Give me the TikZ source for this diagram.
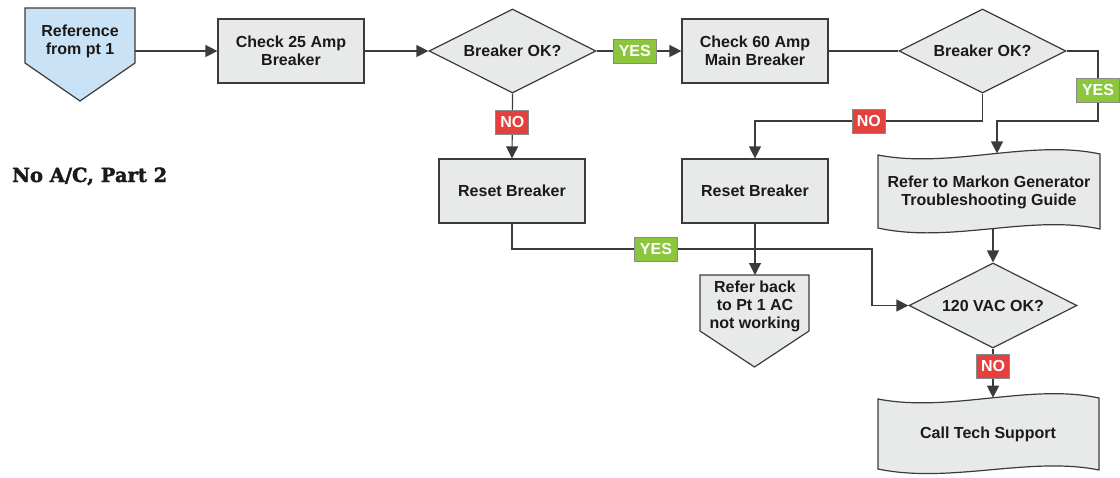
\documentclass[tikz,border=0pt]{standalone}
\usepackage{fontspec}
\setmainfont{Liberation Sans}
\newfontfamily\titlefont[BoldFeatures={FakeBold=2}]{DejaVu Serif}
\usetikzlibrary{shapes.geometric,arrows.meta,calc}
\definecolor{boxfill}{HTML}{E8E9E9}
\definecolor{edgec}{HTML}{3A3C3C}
\definecolor{reffill}{HTML}{C9E2F6}
\definecolor{yesgreen}{HTML}{8CC63F}
\definecolor{nored}{HTML}{E4403D}
\definecolor{txt}{HTML}{1A1A1A}
\begin{document}
\begin{tikzpicture}[x=1pt,y=-1pt,
  font=\fontsize{16}{18}\selectfont\bfseries,
  every node/.style={text=txt},
  shp/.style={draw=edgec, fill=boxfill, line width=1.2pt},
  box/.style={shp, minimum width=146pt, minimum height=64pt, inner sep=0pt, align=center},
  dia/.style={shp, diamond, minimum width=167pt, minimum height=84pt, inner sep=0pt},
  lbl/.style={draw=edgec!60, line width=0.6pt, text=white, minimum width=43pt, minimum height=24pt, inner sep=0pt},
  yes/.style={lbl, fill=yesgreen},
  no/.style={lbl, fill=nored, minimum width=33pt},
  conn/.style={draw=edgec, line width=1.2pt},
  arr/.style={conn, -{Triangle[length=12pt,width=12pt]}},
  txtnode/.style={align=center, inner sep=0pt}
]
\useasboundingbox (0,0) rectangle (1120,477);

% reference pentagon
\draw[shp, fill=reffill] (25,8) -- (135,8) -- (135,63) -- (80,101) -- (25,63) -- cycle;
\node[txtnode] (ref) at (80,41) {Reference\\from pt 1};
\coordinate (refE) at (135,51);

% main row
\node[box] (chk1) at (291,51) {Check 25 Amp\\Breaker};
\node[dia] (ok1) at (512.5,51) {};
\node[txtnode] (ok1t) at (ok1.center) {Breaker OK?};
\node[box] (chk2) at (755,51) {Check 60 Amp\\Main Breaker};
\node[dia] (ok2) at (982.5,51) {};
\node[txtnode] (ok2t) at (ok2.center) {Breaker OK?};

% resets
\node[box] (rst1) at (512,191) {Reset Breaker};
\node[box] (rst2) at (755,191) {Reset Breaker};

% refer back pentagon
\draw[shp] (700,275) -- (809,275) -- (809,331) -- (754.5,367) -- (700,331) -- cycle;
\node[txtnode] (back) at (755,306) {Refer back\\to Pt 1 AC\\not working};
\coordinate (backT) at (755,275);

% document 1
\draw[shp] (878,155) .. controls (950,169) and (1030,139) .. (1100,154) -- (1100,229)
  .. controls (1030,214) and (950,244) .. (878,228) -- cycle;
\node[txtnode] (doc1) at (989,192) {Refer to Markon Generator\\Troubleshooting Guide};
\coordinate (doc1T) at (997,153.4);
\coordinate (doc1B) at (993,228.5);

% 120 VAC diamond
\node[dia, minimum width=168pt, minimum height=85pt] (ok3) at (993,305.5) {};
\node[txtnode] (ok3t) at (ok3.center) {120 VAC OK?};

% document 2
\draw[shp] (878,399) .. controls (950,413) and (1030,383) .. (1099,398) -- (1099,470)
  .. controls (1030,456) and (950,484) .. (878,469) -- cycle;
\node[txtnode] (doc2) at (988,434) {Call Tech Support};
\coordinate (doc2T) at (993,397.7);

% title
\node[anchor=base west, inner sep=0pt, font=\titlefont\bfseries\fontsize{19.5}{19.5}\selectfont] (title) at (12,182) {No A/C, Part 2};

% connectors
\draw[arr] (refE) -- (chk1.west);
\draw[arr] (chk1.east) -- (ok1.west);
\draw[arr] (ok1.east) -- node[yes, pos=0.45] {YES} (chk2.west);
\draw[conn] (chk2.east) -- (ok2.west);
\draw[arr] (ok1.south) -- node[no, pos=0.44] {NO} (rst1.north);
\draw[arr] (ok2.east) -- (1098,51) -- node[yes, pos=0.56] {YES} (1098,121) -- (997,121) -- (doc1T);
\draw[arr] (ok2.south) -- (982.5,121) -- node[no, pos=0.5] {NO} (755,121) -- (rst2.north);
\draw[arr] (rst1.south) -- (512,249) -- node[yes, pos=0.40] {YES} (872,249) -- (872,305.5) -- (ok3.west);
\draw[arr] (rst2.south) -- (backT);
\draw[arr] (doc1B) -- (ok3.north);
\draw[arr] (ok3.south) -- node[no, pos=0.36] {NO} (doc2T);
\end{tikzpicture}
\end{document}
